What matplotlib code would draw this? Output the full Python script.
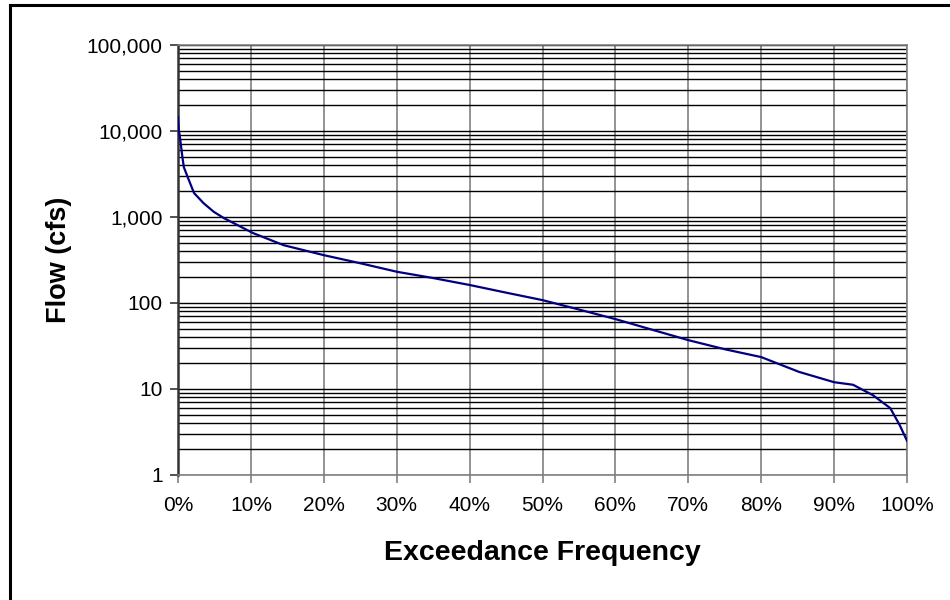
import matplotlib
matplotlib.use('Agg')
import matplotlib.pyplot as plt
from matplotlib.lines import Line2D
from matplotlib.ticker import LogLocator, FuncFormatter, PercentFormatter, NullFormatter, MultipleLocator

plt.rcParams['font.family'] = ['Liberation Sans', 'DejaVu Sans']

# exceedance frequency (%) and flow (cfs)
exceed = [0.0, 0.1, 0.3, 0.6, 0.8, 1.3, 2.2, 3.5, 4.9, 6.3, 10.3, 14.5, 20.0, 25.0,
          30.0, 35.0, 40.0, 45.0, 50.0, 55.0, 60.0, 65.0, 70.0, 75.0, 80.0,
          85.2, 90.0, 92.6, 95.3, 97.7, 99.0, 100.0]
flow = [14500, 10500, 8000, 5000, 3800, 2950, 1900, 1450, 1150, 970, 650, 470, 360, 290,
        231, 195, 162, 132, 108, 84, 65, 49, 37, 29, 23.5,
        15.8, 12, 11.2, 8.5, 6.0, 3.8, 2.5]

fig = plt.figure(figsize=(9.5, 6), dpi=100)
ax = fig.add_axes([178/950, 1 - 475/600, 729/950, 430/600])

ax.plot(exceed, flow, color='#000080', lw=1.6, zorder=3)

ax.set_yscale('log')
ax.set_ylim(1, 100000)
ax.set_xlim(0, 100)

ax.xaxis.set_major_locator(MultipleLocator(10))
ax.xaxis.set_major_formatter(PercentFormatter(decimals=0))
ax.yaxis.set_major_locator(LogLocator(base=10))
ax.yaxis.set_minor_locator(LogLocator(base=10, subs=range(2, 10)))
ax.yaxis.set_major_formatter(FuncFormatter(lambda v, p: f'{int(round(v)):,}'))
ax.yaxis.set_minor_formatter(NullFormatter())

ax.yaxis.grid(True, which='both', color='black', lw=1.0)
ax.xaxis.grid(True, which='major', color='#808080', lw=1.2)
ax.set_axisbelow(True)

ax.tick_params(axis='both', which='major', labelsize=15, length=6, width=1.2, direction='out')
ax.tick_params(axis='y', which='minor', length=0)
ax.tick_params(axis='y', pad=5, color='#333333')
ax.tick_params(axis='x', pad=9, color='#808080')

for s in ['top', 'right', 'bottom']:
    ax.spines[s].set_color('#808080')
    ax.spines[s].set_linewidth(1.2)
ax.spines['left'].set_color('#333333')
ax.spines['left'].set_linewidth(1.8)

ax.set_xlabel('Exceedance Frequency', fontsize=20.5, fontweight='bold', va='center')
ax.xaxis.set_label_coords(0.5, -0.181)
ax.set_ylabel('Flow (cfs)', fontsize=19.5, fontweight='bold', va='center')
ax.yaxis.set_label_coords(-0.163, 0.5)

# outer chart border (left and top edges visible)
fig.add_artist(Line2D([10/950, 10/950], [0, 1 - 5/600], color='black', lw=2.2, transform=fig.transFigure))
fig.add_artist(Line2D([10/950, 1], [1 - 5/600, 1 - 5/600], color='black', lw=2.2, transform=fig.transFigure))

fig.savefig('out.png', dpi=100)
